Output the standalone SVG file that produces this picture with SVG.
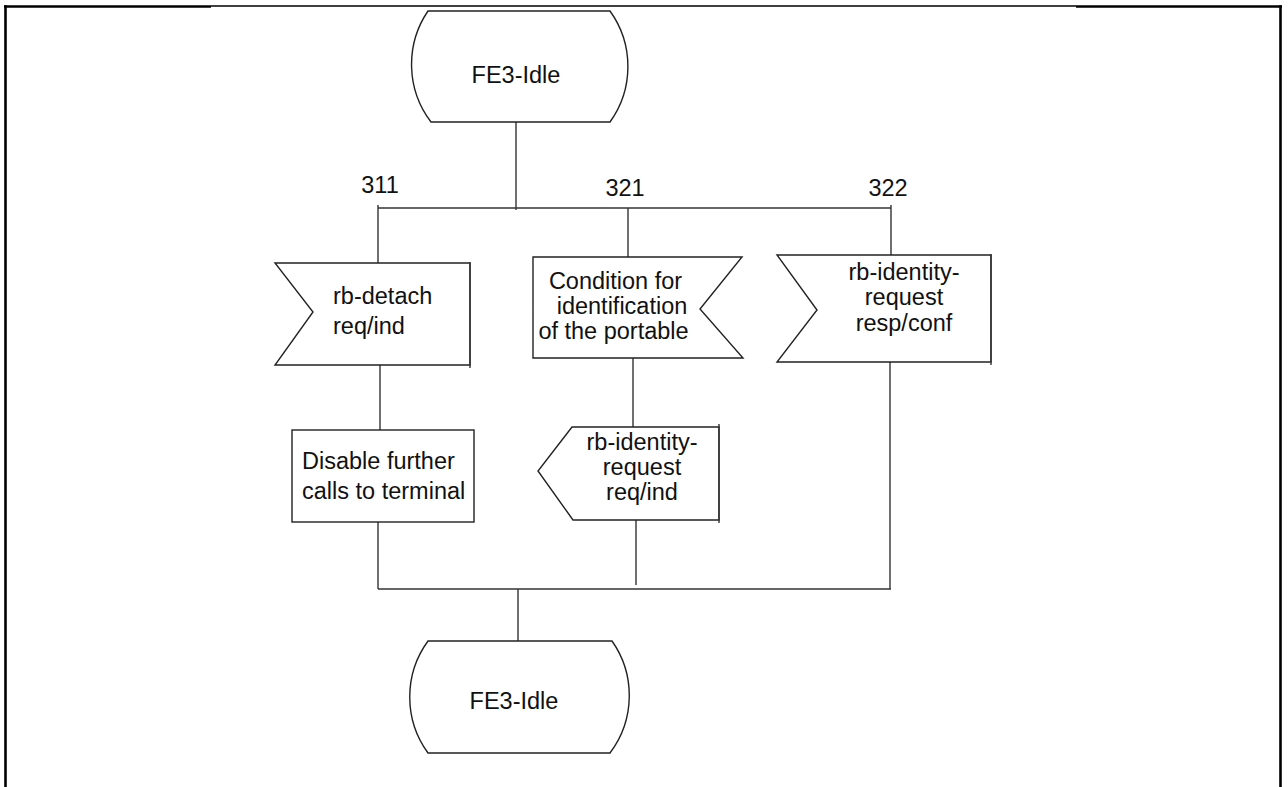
<svg xmlns="http://www.w3.org/2000/svg" width="1288" height="787" viewBox="0 0 1288 787">
  <style>
    .shape { fill: #fff; stroke: #222; stroke-width: 1.4; stroke-linejoin: miter; }
    .edge { fill: none; stroke: #333; stroke-width: 1.4; }
    .frame { fill: none; stroke: #000; stroke-width: 2.6; }
    .frame-thin { fill: none; stroke: #000; stroke-width: 1.3; }
    text { font-family: "Liberation Sans", Arial, sans-serif; font-size: 23.5px; fill: #111; }
    .mid { text-anchor: middle; }
  </style>
  <rect width="1288" height="787" fill="#fff"/>

  <!-- page frame -->
  <g id="frame">
    <line class="frame" x1="4" y1="6.5" x2="211" y2="6.5"/>
    <line class="frame-thin" x1="211" y1="6" x2="1076" y2="6"/>
    <line class="frame" x1="1076" y1="6.5" x2="1282" y2="6.5"/>
    <line class="frame" x1="5.5" y1="5.2" x2="5.5" y2="787"/>
    <line class="frame" x1="1280.5" y1="5.2" x2="1280.5" y2="787"/>
  </g>

  <!-- connectors -->
  <g id="connectors">
    <line class="edge" x1="516" y1="122" x2="516" y2="210"/>
    <line class="edge" x1="378" y1="208" x2="891" y2="208"/>
    <line class="edge" x1="378" y1="205" x2="378" y2="263"/>
    <line class="edge" x1="628" y1="208" x2="628" y2="257"/>
    <line class="edge" x1="891" y1="205" x2="891" y2="255"/>
    <line class="edge" x1="380" y1="365" x2="380" y2="430"/>
    <line class="edge" x1="633" y1="357" x2="633" y2="427"/>
    <line class="edge" x1="378" y1="522" x2="378" y2="589"/>
    <line class="edge" x1="636" y1="520" x2="636" y2="585"/>
    <line class="edge" x1="890" y1="362" x2="890" y2="589"/>
    <line class="edge" x1="378" y1="589" x2="891" y2="589"/>
    <line class="edge" x1="518" y1="589" x2="518" y2="641"/>
  </g>

  <!-- branch labels -->
  <g id="labels">
    <text class="mid" x="380" y="193">311</text>
    <text class="mid" x="625" y="196">321</text>
    <text class="mid" x="888" y="196">322</text>
  </g>

  <!-- start state -->
  <g id="state-top">
    <path class="shape" d="M428,11 H610 A95,95 0 0 1 610,122 H431 A95,95 0 0 1 428,11 Z"/>
    <text class="mid" x="516" y="83">FE3-Idle</text>
  </g>

  <!-- input: rb-detach req/ind -->
  <g id="input-detach">
    <path class="shape" d="M275,263 H470 V365 H275 L313,312 Z"/>
    <line class="edge" x1="470" y1="262" x2="470" y2="368"/>
    <text x="333" y="304">rb-detach</text>
    <text x="333" y="334">req/ind</text>
  </g>

  <!-- spontaneous condition -->
  <g id="condition">
    <path class="shape" d="M533,257 H742 L700,309 L743,358 H533 Z"/>
    <text class="mid" x="615.5" y="289">Condition for</text>
    <text class="mid" x="622" y="314">identification</text>
    <text class="mid" x="613.5" y="339">of the portable</text>
  </g>

  <!-- input: rb-identity-request resp/conf -->
  <g id="input-identity">
    <path class="shape" d="M777,255 H991 V362 H777 L817,310 Z"/>
    <line class="edge" x1="991" y1="254" x2="991" y2="365"/>
    <text class="mid" x="904" y="280">rb-identity-</text>
    <text class="mid" x="904" y="305">request</text>
    <text class="mid" x="904" y="331">resp/conf</text>
  </g>

  <!-- task: disable further calls -->
  <g id="task-disable">
    <rect class="shape" x="292" y="430" width="182" height="92"/>
    <text x="302" y="469">Disable further</text>
    <text x="302" y="499">calls to terminal</text>
  </g>

  <!-- output: rb-identity-request req/ind -->
  <g id="output-identity">
    <path class="shape" d="M572,427 H719 V520 H573 L538,471 Z"/>
    <line class="edge" x1="719" y1="424" x2="719" y2="523"/>
    <text class="mid" x="642" y="450">rb-identity-</text>
    <text class="mid" x="642" y="475">request</text>
    <text class="mid" x="642" y="500">req/ind</text>
  </g>

  <!-- end state -->
  <g id="state-bottom">
    <path class="shape" d="M428,641 H612 A95,95 0 0 1 610,753 H428 A95,95 0 0 1 428,641 Z"/>
    <text class="mid" x="514" y="709">FE3-Idle</text>
  </g>
</svg>
